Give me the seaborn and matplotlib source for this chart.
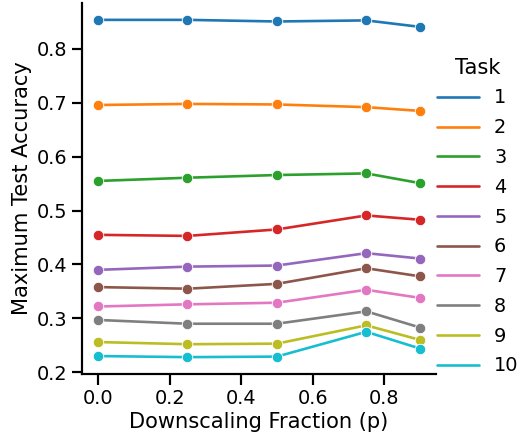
import matplotlib
matplotlib.use("Agg")
import matplotlib.pyplot as plt
import seaborn as sns
import pandas as pd

fractions = [0.0, 0.25, 0.5, 0.75, 0.9]
task1 = [0.854, 0.854, 0.851, 0.853, 0.841]
task2 = [0.696, 0.698, 0.697, 0.692, 0.685]
task3 = [0.555, 0.561, 0.566, 0.569, 0.551]
task4 = [0.455, 0.453, 0.465, 0.491, 0.483]
task5 = [0.390, 0.396, 0.398, 0.421, 0.411]
task6 = [0.358, 0.355, 0.364, 0.393, 0.378]
task7 = [0.322, 0.326, 0.329, 0.353, 0.338]
task8 = [0.297, 0.290, 0.290, 0.313, 0.283]
task9 = [0.256, 0.252, 0.253, 0.287, 0.260]
task10 = [0.230, 0.228, 0.229, 0.275, 0.244]
task_names = ["1", "2", "3", "4", "5", "6", "7", "8", "9", "10"]
series = [task1, task2, task3, task4, task5, task6, task7, task8, task9, task10]

rows = []
for name, vals in zip(task_names, series):
    for p, v in zip(fractions, vals):
        rows.append({"Downscaling Fraction (p)": p, "Maximum Test Accuracy": v, "Task": name})
df = pd.DataFrame(rows)

sns.set_theme(style="ticks", context="talk",
              rc={"text.color": "black", "axes.labelcolor": "black",
                  "xtick.color": "black", "ytick.color": "black",
                  "axes.edgecolor": "black"})
DPI = 84
W, H = 519, 440
fig = plt.figure(figsize=(W / DPI, H / DPI), dpi=DPI)
ax = fig.add_axes([82 / W, 1 - 374 / H, (436 - 82) / W, (374 - 3) / H])
sns.lineplot(data=df, x="Downscaling Fraction (p)", y="Maximum Test Accuracy",
             hue="Task", hue_order=task_names, palette="tab10", marker="o",
             ax=ax, legend=False)
sns.despine(ax=ax)
ax.set_xticks([0.0, 0.2, 0.4, 0.6, 0.8])
ax.set_yticks([0.2, 0.3, 0.4, 0.5, 0.6, 0.7, 0.8])

pal = sns.color_palette("tab10", len(task_names))
handles = [plt.Line2D([], [], color=c) for c in pal]
leg = fig.legend(handles, task_names, title="Task", frameon=False,
                 loc="upper left", bbox_to_anchor=(429 / W, 1 - 50 / H),
                 labelspacing=0.56, handlelength=2.2, handletextpad=0.78,
                 borderaxespad=0)
fig.savefig("out.png", dpi=DPI)
